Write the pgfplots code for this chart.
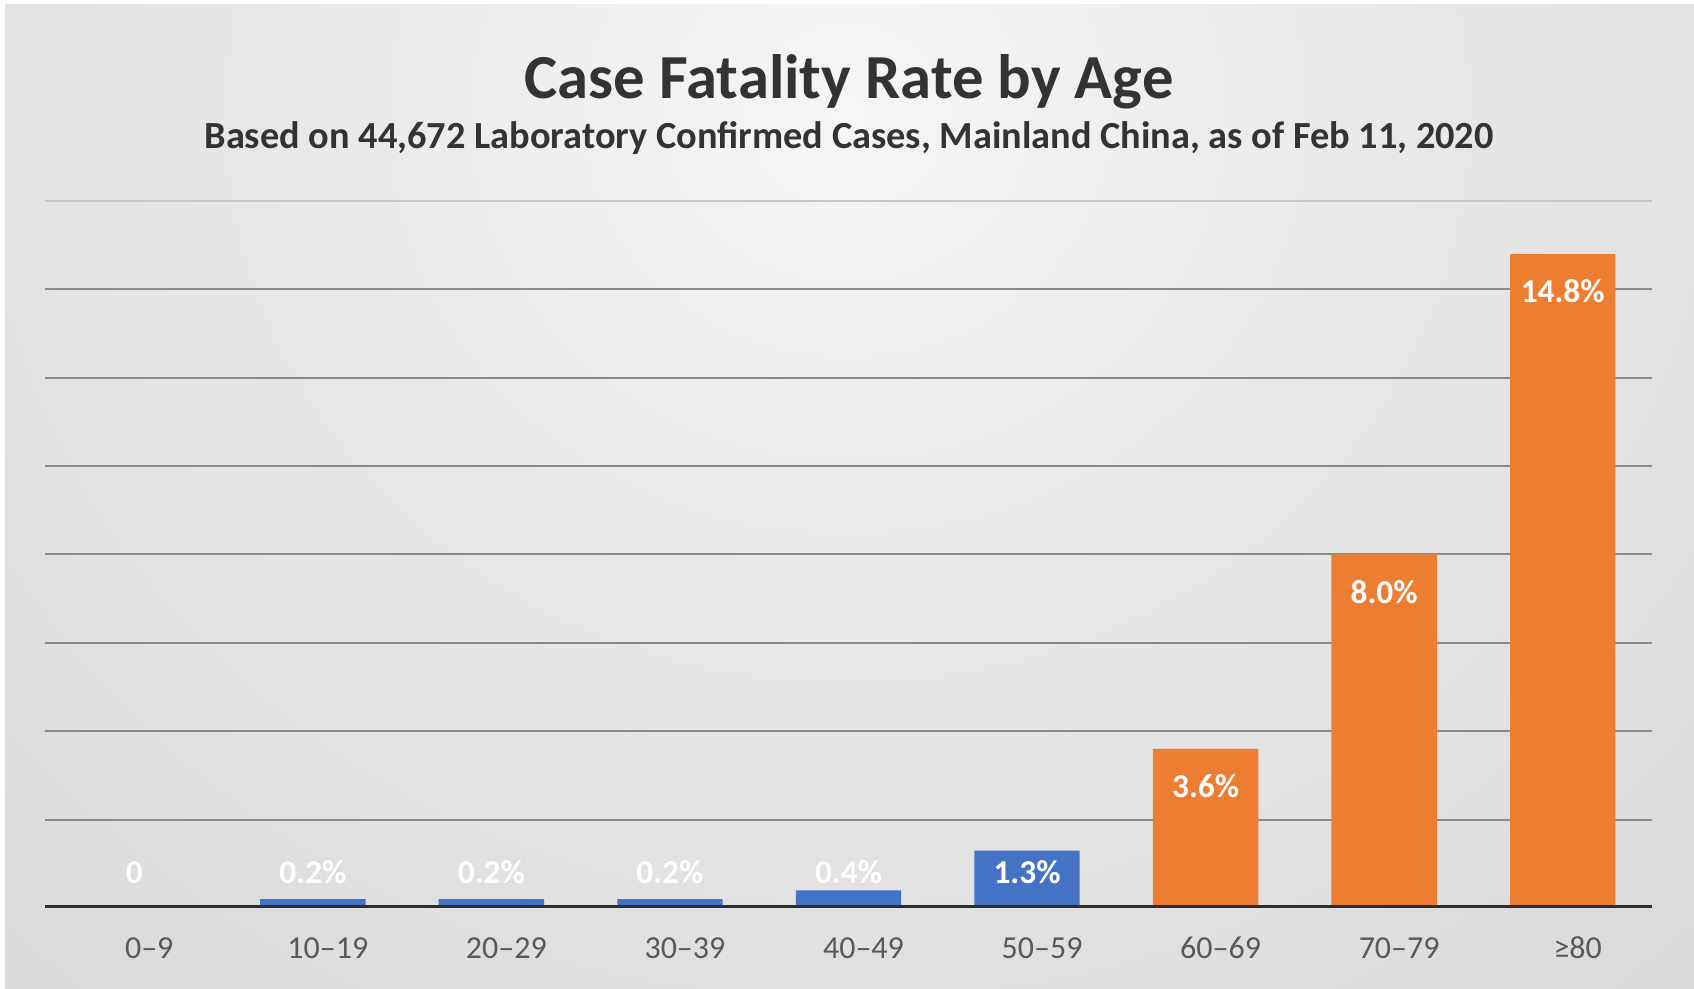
\documentclass[border=0pt]{standalone}
\usepackage{fontspec}
\setmainfont{Carlito}
\usepackage{pgfplots}
\pgfplotsset{compat=1.18}
\usepackage{pgfplotstable}
\definecolor{barblue}{HTML}{4472C4}
\definecolor{barorange}{HTML}{ED7D31}
\definecolor{titlegray}{HTML}{333333}
\definecolor{tickgray}{HTML}{595959}
\definecolor{gridgray}{HTML}{8A8A8A}
\pgfdeclareradialshading{bgshade}{\pgfpoint{0bp}{0bp}}{rgb(0bp)=(0.965,0.965,0.965); rgb(15bp)=(0.90,0.90,0.90); rgb(30bp)=(0.85,0.85,0.85); rgb(42bp)=(0.81,0.81,0.81); rgb(50bp)=(0.74,0.74,0.74)}

\pgfplotstableread{
x y
0 0
1 0.2
2 0.2
3 0.2
4 0.4
5 1.3
}\younger
\pgfplotstableread{
x y
6 3.6
7 8.0
8 14.8
}\older
\pgfplotstableread{
x ypos label
0 0.8 0
1 0.8 0.2\%
2 0.8 0.2\%
3 0.8 0.2\%
4 0.8 0.4\%
5 0.8 1.3\%
6 2.75 3.6\%
7 7.15 8.0\%
8 13.95 14.8\%
}\barlabels

\begin{document}
\begin{tikzpicture}
\path[use as bounding box] (0,0) rectangle (508.2pt,296.7pt);
\fill[white] (0,0) rectangle (508.2pt,296.7pt);
\begin{scope}
\clip (1.5pt,0) rectangle (508.2pt,295.2pt);
\shade[shading=bgshade] (-75.9pt,-38pt) rectangle (584.1pt,562pt);
\end{scope}
\node[anchor=base, text=titlegray, font=\bfseries\fontsize{18.8}{22}\selectfont, inner sep=0pt] at (254.7pt,267.2pt) {Case Fatality Rate by Age};
\node[anchor=base, text=titlegray, font=\bfseries\fontsize{11.5}{13}\selectfont, inner sep=0pt] at (254.7pt,252.1pt) {Based on 44,672 Laboratory Confirmed Cases, Mainland China, as of Feb 11, 2020};
\begin{axis}[
  at={(13.5pt,24.3pt)}, anchor=south west, scale only axis,
  width=482.1pt, height=212.1pt,
  xmin=-0.5, xmax=8.5, ymin=0, ymax=16,
  axis line style={draw=none},
  major tick length=0pt,
  xtick={0,1,2,3,4,5,6,7,8},
  xticklabels={0–9,10–19,20–29,30–39,40–49,50–59,60–69,70–79,≥80},
  xticklabel style={font=\fontsize{9.6}{11}\selectfont, text=tickgray, anchor=base, yshift=-15.3pt, xshift=4.5pt},
  ytick={2,4,6,8,10,12,14},
  yticklabels={},
  ymajorgrids,
  major grid style={color=gridgray, line width=0.6pt},
  extra y ticks={16},
  extra y tick labels={},
  extra y tick style={grid=major, major grid style={color=black!22, line width=0.6pt}},
]
\addplot[ybar, bar width=0.59, bar shift=0pt, fill=barblue, draw=none] table[x=x, y=y] {\younger};
\addplot[ybar, bar width=0.59, bar shift=0pt, fill=barorange, draw=none] table[x=x, y=y] {\older};
\addplot[draw=none, mark=none, nodes near coords, nodes near coords align={center}, point meta=explicit symbolic,
  every node near coord/.append style={anchor=center, text=white, font=\bfseries\fontsize{10}{12}\selectfont}]
  table[x=x, y=ypos, meta=label] {\barlabels};
\draw[line width=1.5pt, color=black!82] (rel axis cs:0,0) -- (rel axis cs:1,0);
\end{axis}
\end{tikzpicture}
\end{document}
